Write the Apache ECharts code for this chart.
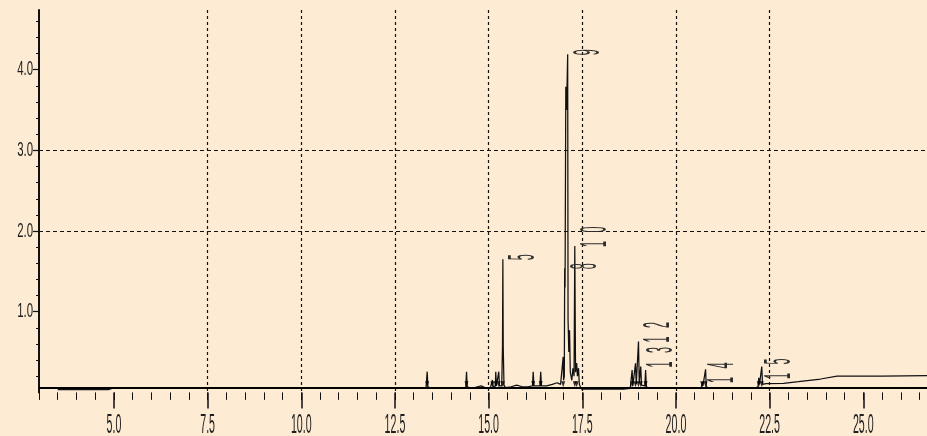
<!DOCTYPE html>
<html>
<head>
<meta charset="utf-8">
<script src="https://cdn.jsdelivr.net/npm/echarts@6/dist/echarts.min.js"></script>
<style>
  html, body { margin: 0; padding: 0; background: #FDEBD4; }
  #chart { width: 927px; height: 436px; }
</style>
</head>
<body>
<div id="chart"></div>
<script>
// Chromatogram trace: retention time (min) and detector response, in drawing order
const retentionTimes = [
  3.50, 4.85, 4.95, 13.20,
  13.33, 13.36, 13.38, 13.45,
  14.30, 14.39, 14.41, 14.43, 14.55, 14.70, 14.80, 14.90, 15.05,
  15.09, 15.10, 15.12, 15.18, 15.19, 15.21, 15.26, 15.27, 15.29,
  15.35, 15.37, 15.38, 15.39, 15.41, 15.45, 15.60, 15.75, 15.90, 16.05,
  16.17, 16.19, 16.21, 16.37, 16.39, 16.41, 16.55, 16.70, 16.83, 16.92,
  16.97, 16.99, 17.00, 17.02, 17.03, 17.04, 17.06, 17.08, 17.11, 17.12,
  17.14, 17.16, 17.18, 17.22, 17.25, 17.28, 17.30, 17.32, 17.35, 17.37,
  17.40, 17.42, 17.48, 18.60,
  18.78, 18.82, 18.83, 18.85, 18.90, 18.92, 18.94, 18.98, 19.00, 19.02,
  19.04, 19.06, 19.08, 19.17, 19.19, 19.21, 19.30, 20.60,
  20.68, 20.70, 20.72, 20.77, 20.79, 20.81, 20.90, 22.10,
  22.19, 22.21, 22.23, 22.27, 22.29, 22.31, 22.40,
  22.87, 23.27, 23.86, 24.30, 25.50, 26.70
];
const responses = [
  0.035, 0.035, 0.05, 0.05,
  0.06, 0.257, 0.07, 0.05,
  0.05, 0.06, 0.257, 0.07, 0.05, 0.07, 0.08, 0.06, 0.06,
  0.07, 0.154, 0.07, 0.08, 0.257, 0.08, 0.08, 0.257, 0.08,
  0.08, 0.566, 1.65, 0.566, 0.09, 0.06, 0.07, 0.09, 0.07, 0.07,
  0.08, 0.257, 0.08, 0.08, 0.257, 0.08, 0.08, 0.10, 0.12, 0.10,
  0.10, 0.44, 0.15, 0.20, 1.54, 1.30, 3.79, 3.50, 4.19, 0.90,
  0.50, 0.77, 0.25, 0.15, 0.30, 0.20, 1.815, 0.25, 0.364, 0.20,
  0.30, 0.10, 0.04, 0.04,
  0.05, 0.06, 0.278, 0.08, 0.08, 0.36, 0.10, 0.10, 0.63, 0.12,
  0.10, 0.32, 0.09, 0.08, 0.278, 0.07, 0.05, 0.05,
  0.06, 0.13, 0.08, 0.08, 0.286, 0.07, 0.05, 0.05,
  0.07, 0.18, 0.10, 0.10, 0.32, 0.10, 0.11,
  0.113, 0.133, 0.166, 0.203, 0.203, 0.207
];

// Integration marks at the foot of detected peaks
const markTimes = [13.36, 14.41, 15.10, 15.19, 15.27, 15.38, 16.19, 16.39, 16.99, 17.30,
                   17.35, 18.83, 18.92, 19.00, 19.06, 19.19, 20.70, 20.79, 22.21, 22.29];
const markLevel = 0.10;

// Numbered peaks: apex time, apex response, peak number
const peakTimes   = [15.38, 17.03, 17.11, 17.30, 19.00, 19.06, 20.70, 22.21];
const peakHeights = [1.65, 1.54, 4.19, 1.815, 0.63, 0.32, 0.13, 0.18];
const peakNames   = ['5', '8', '9', '10', '12', '13', '14', '15'];

// Axis ticks
const xMajorTicks = [5.0, 7.5, 10.0, 12.5, 15.0, 17.5, 20.0, 22.5, 25.0];
const yMajorTicks = [1.0, 2.0, 3.0, 4.0];
const axisBaseline = 0.058;

const INK = '#111';
const LABEL_FONT = '"Liberation Sans", Arial, sans-serif';

const chart = echarts.init(document.getElementById('chart'));

const tracePoints = retentionTimes.map((t, i) => [t, responses[i]]);
const markPoints = markTimes.map(t => [t, markLevel]);
const peakPoints = peakTimes.map((t, i) => [t, peakHeights[i]]);

const option = {
  backgroundColor: '#FDEBD4',
  animation: false,
  grid: { left: 39, right: 0, top: 10, bottom: 43.6, containLabel: false },
  xAxis: [
    {
      type: 'value', min: 3.0, max: 26.7, position: 'bottom',
      axisLine: { show: false },
      axisTick: { show: true, customValues: xMajorTicks, length: 16, lineStyle: { color: INK, width: 1.5 } },
      axisLabel: { show: false },
      splitLine: { show: true, showMinLine: false, showMaxLine: false,
                   lineStyle: { color: INK, width: 1.2, type: [3, 3] } },
      minorTick: { show: false }
    },
    {
      type: 'value', min: 3.0, max: 26.7, interval: 0.5, position: 'bottom',
      axisLine: { show: false },
      axisTick: { show: true, length: 7.5, lineStyle: { color: INK, width: 1 } },
      axisLabel: { show: false },
      splitLine: { show: false }
    }
  ],
  yAxis: {
    type: 'value', min: 0, max: 4.74, interval: 1,
    axisLine: { show: true, lineStyle: { color: INK, width: 2 } },
    axisTick: { show: true, customValues: yMajorTicks, length: 6, lineStyle: { color: INK, width: 1.2 } },
    minorTick: { show: true, splitNumber: 5, length: 3, lineStyle: { color: INK, width: 1 } },
    axisLabel: { show: false },
    splitLine: { show: true, showMinLine: false, showMaxLine: false,
                 lineStyle: { color: INK, width: 1, type: [4, 3] } }
  },
  series: [
    {
      type: 'line',
      data: tracePoints,
      showSymbol: false,
      symbol: 'none',
      lineStyle: { color: INK, width: 1.25 },
      z: 3,
      markLine: {
        silent: true,
        symbol: 'none',
        label: { show: false },
        lineStyle: { color: '#000', width: 2, type: 'solid' },
        data: [{ yAxis: axisBaseline }]
      }
    },
    {
      type: 'scatter',
      data: markPoints,
      symbol: 'triangle',
      symbolRotate: 180,
      symbolSize: [4, 6],
      itemStyle: { color: '#000' },
      z: 4
    },
    {
      type: 'custom',
      data: peakPoints,
      z: 5,
      renderItem: function (params, api) {
        const p = api.coord([api.value(0), api.value(1)]);
        const name = peakNames[params.dataIndex];
        const children = name.split('').map(function (ch, i) {
          return {
            type: 'text',
            x: p[0] + 21,
            y: p[1] - 2 - i * 14.5,
            rotation: Math.PI / 2,
            scaleX: 0.3,
            style: {
              text: ch,
              font: '36px ' + LABEL_FONT,
              fill: '#2c2c2c',
              textAlign: 'center',
              textVerticalAlign: 'middle'
            }
          };
        });
        return { type: 'group', children: children };
      }
    }
  ]
};

chart.setOption(option);

// Narrow, tall tick labels placed at the axis tick positions
const tickTexts = [];
xMajorTicks.forEach(function (v) {
  const px = chart.convertToPixel({ xAxisIndex: 0 }, v);
  tickTexts.push({
    type: 'text', x: px, y: 425, scaleX: 0.38, silent: true,
    style: { text: v.toFixed(1), font: '28px ' + LABEL_FONT, fill: '#1e1e1e',
             textAlign: 'center', textVerticalAlign: 'middle' }
  });
});
yMajorTicks.forEach(function (v) {
  const py = chart.convertToPixel({ yAxisIndex: 0 }, v);
  tickTexts.push({
    type: 'text', x: 33, y: py, scaleX: 0.57, silent: true,
    style: { text: v.toFixed(1), font: '20px ' + LABEL_FONT, fill: '#1e1e1e',
             textAlign: 'right', textVerticalAlign: 'middle' }
  });
});
chart.setOption({ graphic: { elements: tickTexts } });
</script>
</body>
</html>
